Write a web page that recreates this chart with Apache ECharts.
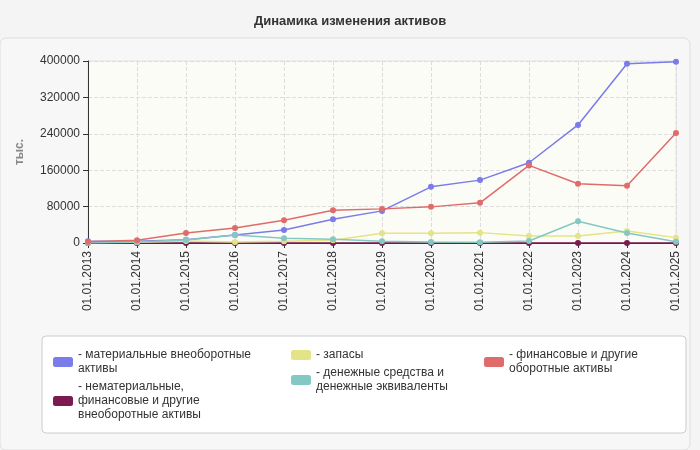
<!DOCTYPE html>
<html><head><meta charset="utf-8">
<script src="https://cdn.jsdelivr.net/npm/echarts@6/dist/echarts.min.js"></script>
<style>html,body{margin:0;background:#f4f4f4}#main{width:700px;height:450px}</style>
</head><body><div id="main"></div>
<script>
var chart = echarts.init(document.getElementById("main"));
var years = ["01.01.2013", "01.01.2014", "01.01.2015", "01.01.2016", "01.01.2017", "01.01.2018", "01.01.2019",
    "01.01.2020", "01.01.2021", "01.01.2022", "01.01.2023", "01.01.2024", "01.01.2025"];
var material = [3700, 3700, 7000, 17600, 28700, 52200, 70600, 123500, 138200, 176400, 259500, 394000, 398400];
var nonmaterial = [200, 200, 200, 200, 200, 200, 200, 200, 200, 200, 200, 200, 200];
var stocks = [500, 1500, 4400, 2200, 3700, 5900, 21300, 21300, 22800, 15400, 15400, 26500, 11800];
var cash = [1000, 2000, 6600, 17600, 10300, 8100, 3700, 2200, 1500, 4400, 47800, 22000, 2900];
var financial = [2900, 5900, 22000, 33000, 50000, 72000, 75000, 79400, 88200, 170500, 130100, 125700, 241800];
var yTicks = [0, 80000, 160000, 240000, 320000, 400000];

var names = ["материальные внеоборотные\nактивы", "нематериальные,\nфинансовые и другие\nвнеоборотные активы",
    "запасы", "денежные средства и\nденежные эквиваленты", "финансовые и другие\nоборотные активы"];
var colors = ["#7b7bea", "#7a1a50", "#e3e388", "#84c8c4", "#e06b6b"];
var datas = [material, nonmaterial, stocks, cash, financial];

var series = [];
for (var i = 0; i < names.length; i++) {
    series.push({
        name: names[i], type: "line", data: datas[i], symbol: "circle", symbolSize: 6,
        itemStyle: { color: colors[i] }, lineStyle: { width: 1.5, color: colors[i] }
    });
}

var legendBase = {
    orient: "vertical", top: 343, itemWidth: 20, itemHeight: 10, itemGap: 4,
    icon: "roundRect", formatter: "- {name}",
    textStyle: { fontSize: 12, color: "#333", lineHeight: 14, fontFamily: "Liberation Sans" }
};

option = {
    backgroundColor: "#f4f4f4",
    title: { text: "Динамика изменения активов", left: "center", top: 10,
        textStyle: { fontSize: 13, fontWeight: "bold", color: "#333", fontFamily: "Liberation Sans" } },
    textStyle: { fontFamily: "Liberation Sans" },
    graphic: [
        { type: "rect", shape: { x: 0, y: 38, width: 690, height: 412, r: 6 }, z: -10,
            style: { fill: "#f7f7f7", stroke: "#dddddd" } },
        { type: "rect", shape: { x: 42, y: 336, width: 644, height: 97, r: 4 }, z: -5,
            style: { fill: "#ffffff", stroke: "#cccccc" } }
    ],
    legend: [
        Object.assign({ left: 48, data: [names[0], names[1]] }, legendBase),
        Object.assign({ left: 286, data: [names[2], names[3]] }, legendBase),
        Object.assign({ left: 479, data: [names[4]] }, legendBase)
    ],
    grid: { left: 88, right: 24, top: 61, bottom: 207, backgroundColor: "#fcfcf6", show: true, borderColor: "#e2e2e2" },
    xAxis: {
        type: "category", data: years, boundaryGap: false,
        axisLine: { lineStyle: { color: "#333" } },
        axisTick: { show: true, lineStyle: { color: "#333" } },
        axisLabel: { rotate: 90, color: "#333", fontSize: 12, interval: 0 },
        splitLine: { show: true, lineStyle: { color: "#dddddd", type: "dashed" } }
    },
    yAxis: {
        type: "value", min: 0, max: yTicks[yTicks.length - 1], interval: yTicks[1] - yTicks[0],
        name: "тыс.", nameLocation: "middle", nameGap: 62, nameRotate: 90,
        nameTextStyle: { color: "#888", fontSize: 12, fontWeight: "bold" },
        axisLine: { show: true, lineStyle: { color: "#333" } },
        axisTick: { show: true, lineStyle: { color: "#333" } },
        axisLabel: { color: "#333", fontSize: 12, formatter: function (v) { return String(v); } },
        splitLine: { lineStyle: { color: "#dddddd", type: "dashed" } }
    },
    series: series
};
chart.setOption(option);
</script></body></html>
